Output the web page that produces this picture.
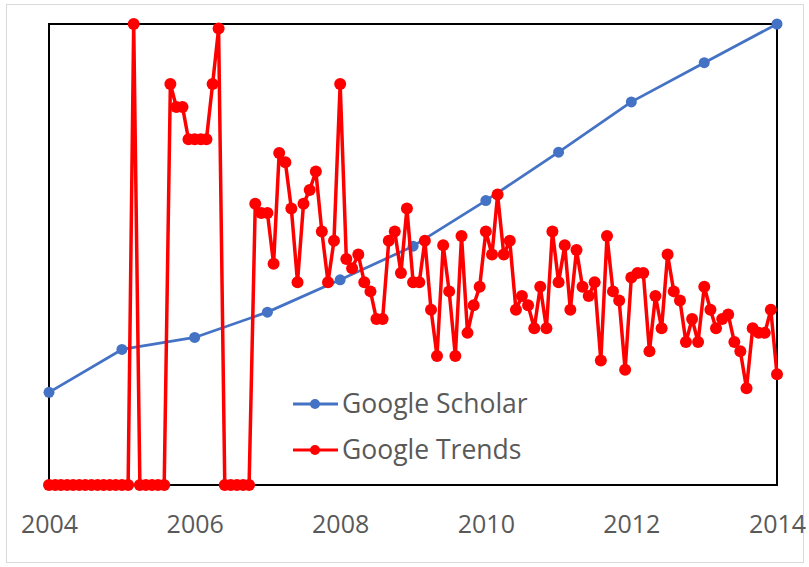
<!DOCTYPE html>
<html>
<head>
<meta charset="utf-8">
<script src="https://cdn.jsdelivr.net/npm/d3@7"></script>
<style>
	html, body { margin: 0; padding: 0; background: #fff; }
</style>
</head>
<body>
<div id="chart"></div>
<script>
// Google Scholar: one point per year
const scholarYears = [2004, 2005, 2006, 2007, 2008, 2009, 2010, 2011, 2012, 2013, 2014];
const scholarValues = [20.1, 29.4, 32, 37.5, 44.5, 51.8, 61.7, 72.2, 83.1, 91.6, 100];

// Google Trends: monthly, Jan 2004 .. Jan 2014
const trendsStart = "2004-01-01";
const trendsValues = [
	0, 0, 0, 0, 0, 0, 0, 0, 0, 0, 0, 0,
	0, 0, 100, 0, 0, 0, 0, 0, 87, 82, 82, 75,
	75, 75, 75, 87, 99, 0, 0, 0, 0, 0, 61, 59,
	59, 48, 72, 70, 60, 44, 61, 64, 68, 55, 44, 53,
	87, 49, 47, 50, 44, 42, 36, 36, 53, 55, 46, 60,
	44, 44, 53, 38, 28, 52, 42, 28, 54, 33, 39, 43,
	55, 50, 63, 50, 53, 38, 41, 39, 34, 43, 34, 55,
	44, 52, 38, 51, 43, 41, 44, 27, 54, 42, 40, 25,
	45, 46, 46, 29, 41, 34, 50, 42, 40, 31, 36, 31,
	43, 38, 34, 36, 37, 31, 29, 21, 34, 33, 33, 38,
	24,
];

const tickYears = [2004, 2006, 2008, 2010, 2012, 2014];
const seriesNames = ["Google Scholar", "Google Trends"];
const seriesColors = ["#4472c4", "#ff0000"];

const width = 809;
const height = 567;
const margin = { left: 49, right: 32, top: 24, bottom: 82 };
const font = "'Open Sans', 'Noto Sans', sans-serif";
const textColor = "#595959";

const parse = d3.timeParse("%Y-%m-%d");
const start = parse(trendsStart);

const scholar = scholarYears.map((y, i) => ({
	date: new Date(y, 0, 1),
	value: scholarValues[i],
}));
const trends = trendsValues.map((v, i) => ({
	date: d3.timeMonth.offset(start, i),
	value: v,
}));

const x = d3
	.scaleTime()
	.domain([new Date(2004, 0, 1), new Date(2014, 0, 1)])
	.range([margin.left, width - margin.right]);

const y = d3
	.scaleLinear()
	.domain([0, 100])
	.range([height - margin.bottom, margin.top]);

const svg = d3
	.create("svg")
	.attr("width", width)
	.attr("height", height)
	.attr("viewBox", [0, 0, width, height])
	.attr("font-family", font);

// Chart frame
svg.append("rect")
	.attr("x", 6.5)
	.attr("y", 4.5)
	.attr("width", 797)
	.attr("height", 558)
	.attr("fill", "white")
	.attr("stroke", "#d9d9d9");

// Plot area border
svg.append("rect")
	.attr("x", x.range()[0])
	.attr("y", y.range()[1])
	.attr("width", x.range()[1] - x.range()[0])
	.attr("height", y.range()[0] - y.range()[1])
	.attr("fill", "none")
	.attr("stroke", "black")
	.attr("stroke-width", 2);

// Bottom axis (years only)
svg.append("g")
	.attr("transform", `translate(0,${height - margin.bottom})`)
	.call(
		d3
			.axisBottom(x)
			.tickValues(tickYears.map((d) => new Date(d, 0, 1)))
			.tickFormat(d3.timeFormat("%Y"))
			.tickSize(0)
			.tickPadding(30)
	)
	.call((g) => g.select(".domain").remove())
	.selectAll(".tick text")
	.attr("font-family", font)
	.attr("font-size", "25px")
	.attr("fill", textColor);

const line = d3
	.line()
	.x((d) => x(d.date))
	.y((d) => y(d.value));

// Draw a series as line + dots
function drawSeries(data, color, lineWidth, r) {
	const g = svg.append("g");
	g.append("path")
		.datum(data)
		.attr("fill", "none")
		.attr("stroke", color)
		.attr("stroke-width", lineWidth)
		.attr("stroke-linejoin", "round")
		.attr("d", line);
	g.selectAll("circle")
		.data(data)
		.join("circle")
		.attr("cx", (d) => x(d.date))
		.attr("cy", (d) => y(d.value))
		.attr("r", r)
		.attr("fill", color);
}

drawSeries(scholar, seriesColors[0], 2.75, 5.5);
drawSeries(trends, seriesColors[1], 3.5, 6);

// Legend
const legend = svg
	.append("g")
	.selectAll("g")
	.data(seriesNames)
	.join("g")
	.attr("transform", (d, i) => `translate(293,${404 + i * 46})`);

legend.append("line")
	.attr("x1", 0)
	.attr("x2", 45)
	.attr("stroke", (d, i) => seriesColors[i])
	.attr("stroke-width", 3);

legend.append("circle")
	.attr("cx", 22)
	.attr("r", 5)
	.attr("fill", (d, i) => seriesColors[i]);

legend.append("text")
	.attr("x", 49)
	.attr("dy", "0.35em")
	.attr("font-size", "26.5px")
	.attr("fill", textColor)
	.text((d) => d);

document.getElementById("chart").appendChild(svg.node());
</script>
</body>
</html>
